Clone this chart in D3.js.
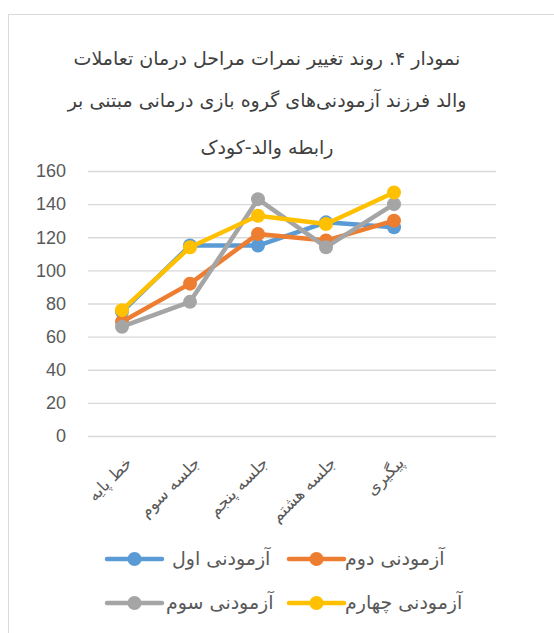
<!DOCTYPE html>
<html>
<head>
<meta charset="utf-8">
<script src="https://cdn.jsdelivr.net/npm/d3@7"></script>
<style>
body { margin: 0; background: #fff; }
svg { display: block; }
.tick text { fill: #595959; }
</style>
</head>
<body>
<script>
var width = 554, height = 633;

// categories (last slot is left empty, like the original)
var categories = ["خط پایه", "جلسه سوم", "جلسه پنجم", "جلسه هشتم", "پیگیری", ""];
var seriesNames = ["آزمودنی اول", "آزمودنی دوم", "آزمودنی سوم", "آزمودنی چهارم"];
var colors = ["#5B9BD5", "#ED7D31", "#A5A5A5", "#FFC000"];
var s1 = [75, 115, 115, 129, 126];
var s2 = [69, 92, 122, 118, 130];
var s3 = [66, 81, 143, 114, 140];
var s4 = [76, 114, 133, 128, 147];
var yTicks = [0, 20, 40, 60, 80, 100, 120, 140, 160];
var titleLines = ["نمودار ۴. روند تغییر نمرات مراحل درمان تعاملات", "والد فرزند آزمودنی‌های گروه بازی درمانی مبتنی بر", "رابطه والد-کودک"];

var series = [s1, s2, s3, s4];

var plot = { left: 88, right: 496, top: 171, bottom: 436 };

var x = d3.scaleBand().domain(categories).range([plot.left, plot.right]),
	y = d3.scaleLinear().domain([0, 160]).range([plot.bottom, plot.top]);

var svg = d3.select("body").append("svg")
	.attr("width", width)
	.attr("height", height);

// chart frame
svg.append("rect")
	.attr("x", 8.5).attr("y", 14.5)
	.attr("width", 600).attr("height", 700)
	.attr("fill", "none")
	.attr("stroke", "#D9D9D9");

// title
svg.append("g").selectAll("text")
	.data(titleLines)
	.enter().append("text")
	.attr("x", 267)
	.attr("y", function (d, i) { return [65, 107, 154][i]; })
	.attr("text-anchor", "middle")
	.attr("direction", "rtl")
	.style("font-family", "'DejaVu Sans', sans-serif")
	.style("font-size", "19px")
	.attr("fill", "#404040")
	.text(function (d) { return d; });

// gridlines + y labels
var yAxis = svg.append("g")
	.attr("transform", "translate(" + plot.left + ",0)")
	.call(d3.axisLeft(y).tickValues(yTicks).tickSize(-(plot.right - plot.left)).tickPadding(22));
yAxis.select(".domain").remove();
yAxis.selectAll(".tick line").attr("stroke", "#D9D9D9").attr("stroke-width", 1.3);
yAxis.selectAll(".tick text")
	.style("font-family", "'Liberation Sans', Arial, sans-serif")
	.style("font-size", "18px");

// x labels, rotated
var xAxis = svg.append("g")
	.attr("transform", "translate(0," + plot.bottom + ")")
	.call(d3.axisBottom(x).tickSize(0).tickPadding(0));
xAxis.select(".domain").remove();
xAxis.selectAll(".tick text")
	.attr("direction", "rtl")
	.attr("text-anchor", "start")
	.attr("dy", null)
	.attr("y", 0)
	.attr("transform", "translate(11,28) rotate(-45)")
	.style("font-family", "'DejaVu Sans', sans-serif")
	.style("font-size", "16.5px");

// lines and markers
var line = d3.line()
	.x(function (d, i) { return x(categories[i]) + x.bandwidth() / 2; })
	.y(function (d) { return y(d); });

series.forEach(function (vals, k) {
	var g = svg.append("g");
	g.append("path")
		.datum(vals)
		.attr("d", line)
		.attr("fill", "none")
		.attr("stroke", colors[k])
		.attr("stroke-width", 4.5)
		.attr("stroke-linejoin", "round")
		.attr("stroke-linecap", "round");
	g.selectAll("circle")
		.data(vals)
		.enter().append("circle")
		.attr("cx", function (d, i) { return x(categories[i]) + x.bandwidth() / 2; })
		.attr("cy", function (d) { return y(d); })
		.attr("r", 7)
		.attr("fill", colors[k]);
});

// legend
var legendPos = [[107, 559, 65], [289, 559, 56], [107, 603, 59], [289, 603, 56]];
var legend = svg.append("g").selectAll("g")
	.data(seriesNames)
	.enter().append("g")
	.attr("transform", function (d, i) { return "translate(" + legendPos[i][0] + "," + legendPos[i][1] + ")"; });

legend.append("line")
	.attr("x1", 0).attr("x2", 55)
	.attr("stroke", function (d, i) { return colors[i]; })
	.attr("stroke-width", 4.5)
	.attr("stroke-linecap", "round");
legend.append("circle")
	.attr("cx", 27.5).attr("r", 7)
	.attr("fill", function (d, i) { return colors[i]; });
legend.append("text")
	.attr("x", function (d, i) { return legendPos[i][2]; })
	.attr("y", 6)
	.attr("direction", "rtl")
	.attr("text-anchor", "end")
	.style("font-family", "'DejaVu Sans', sans-serif")
	.style("font-size", "19px")
	.attr("fill", "#595959")
	.text(function (d) { return d; });
</script>
</body>
</html>
